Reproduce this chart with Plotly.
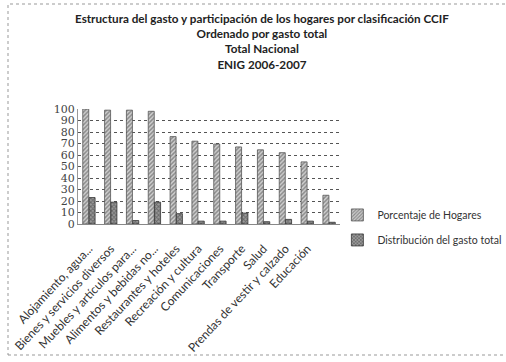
import plotly.graph_objects as go

categories = [
    "Alojamiento, agua...",
    "Bienes y servicios diversos",
    "Muebles y artículos para...",
    "Alimentos y bebidas no...",
    "Restaurantes y hoteles",
    "Recreación y cultura",
    "Comunicaciones",
    "Transporte",
    "Salud",
    "Prendas de vestir y calzado",
    "Educación",
    " ",
]
porcentaje_hogares = [100, 99, 99, 98, 76, 72, 69.5, 67, 64.5, 62, 54, 25]
distribucion_gasto = [23, 19, 3, 19, 9, 2.5, 2.5, 9.5, 2, 4, 2.5, 1.5]
y_ticks = [0, 10, 20, 30, 40, 50, 60, 70, 80, 90, 100]
title_lines = [
    "Estructura del gasto y participación de los hogares por clasificación CCIF",
    "Ordenado por gasto total",
    "Total Nacional",
    "ENIG 2006-2007",
]

FONT = "Lato, 'Open Sans', sans-serif"

fig = go.Figure()
fig.add_trace(go.Bar(
    x=categories, y=porcentaje_hogares, name="Porcentaje de Hogares",
    legendgroup="a",
    marker=dict(color="#d0d0d0", line=dict(color="#555555", width=0.8),
                pattern=dict(shape="/", fgcolor="#444444", size=3, solidity=0.5)),
))
fig.add_trace(go.Bar(
    x=categories, y=distribucion_gasto, name="Distribución del gasto total",
    legendgroup="b",
    marker=dict(color="#9a9a9a", line=dict(color="#333333", width=0.8),
                pattern=dict(shape="x", fgcolor="#333333", size=3, solidity=0.5)),
))

fig.update_layout(
    width=506, height=362,
    margin=dict(l=78, r=166, t=109, b=138, autoexpand=False),
    paper_bgcolor="white", plot_bgcolor="white",
    font=dict(family=FONT, color="#333333"),
    barmode="group", bargap=0.42, bargroupgap=0.05,
    showlegend=True,
    legend=dict(
        x=0.99, xanchor="left", y=-0.03, yanchor="middle",
        font=dict(family=FONT, size=10.5, color="#333333"),
        bgcolor="rgba(0,0,0,0)", traceorder="grouped", tracegroupgap=6,
        itemwidth=30,
    ),
    xaxis=dict(
        tickangle=-47, tickfont=dict(family=FONT, size=12, color="#333333"),
        showgrid=False, showline=True, linecolor="#888888", linewidth=1,
        ticks="", automargin=False, ticklabelstandoff=12,
    ),
    yaxis=dict(
        range=[0, 100], tickvals=y_ticks,
        tickfont=dict(family="'DejaVu Serif', serif", size=11, color="#444444"),
        showgrid=True, gridcolor="#555555", griddash="dot", gridwidth=1,
        showline=True, linecolor="#999999", linewidth=1,
        zeroline=False, ticks="", automargin=False,
    ),
    annotations=[dict(
        text="<br>".join(f"<b>{t}</b>" for t in title_lines),
        xref="paper", yref="paper",
        x=(262 - 78) / 262, xanchor="center",
        y=(224 - 9) / 115, yanchor="top",
        showarrow=False, align="center",
        font=dict(family=FONT, size=11.7, color="#222222"),
    )],
    shapes=[dict(
        type="rect", xref="paper", yref="paper",
        x0=(8 - 78) / 262, x1=(510 - 78) / 262,
        y0=(224 - 355) / 115, y1=(224 - 4) / 115,
        line=dict(color="#999999", width=1, dash="dot"),
        fillcolor="rgba(0,0,0,0)", layer="below",
    )],
)

fig.write_html("out.html")
